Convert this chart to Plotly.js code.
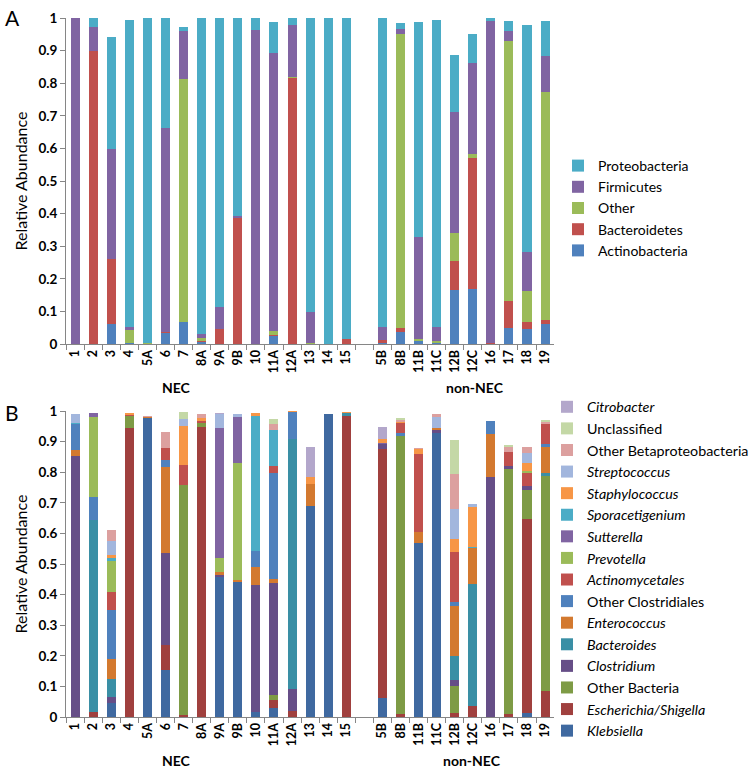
<!DOCTYPE html>
<html>
<head>
<meta charset="utf-8">
<script src="https://cdn.plot.ly/plotly-3.0.1.min.js"></script>
<style>html,body{margin:0;padding:0;background:#fff}#chart{width:754px;height:769px}</style>
</head>
<body>
<div id="chart"></div>
<script>
// Samples (gap slot between NEC and non-NEC groups)
var categories = ["1","2","3","4","5A","6","7","8A","9A","9B","10","11A","12A","13","14","15","\u00a0","5B","8B","11B","11C","12B","12C","16","17","18","19"];

// Panel A – phylum level (stack order bottom -> top)
var actinobacteria = [0,0,0.06,0.003,0,0.035,0.066,0.006,0,0,0,0.025,0,0,0,0,null,0.003,0.036,0.01,0.003,0.166,0.17,0,0.048,0.046,0.061];
var bacteroidetes  = [0,0.898,0.2,0,0,0.003,0,0.003,0.046,0.385,0,0.003,0.817,0,0,0.015,null,0.01,0.013,0,0,0.088,0.4,0.003,0.084,0.022,0.012];
var otherA         = [0,0,0.002,0.04,0.003,0,0.746,0.01,0,0,0,0.012,0.003,0.002,0,0,null,0,0.902,0.005,0.007,0.088,0.014,0,0.796,0.094,0.70];
var firmicutes     = [1.0,0.073,0.337,0.01,0,0.625,0.149,0.013,0.068,0.007,0.963,0.854,0.159,0.095,0,0,null,0.039,0.015,0.314,0.043,0.369,0.279,0.989,0.033,0.121,0.109];
var proteobacteria = [0,0.029,0.343,0.942,0.997,0.337,0.01,0.968,0.886,0.608,0.037,0.094,0.021,0.903,1.0,0.985,null,0.948,0.019,0.658,0.942,0.174,0.088,0.008,0.029,0.697,0.11];

// Panel B – genus level (stack order bottom -> top)
var klebsiella      = [0,0,0.045,0,0.977,0.154,0,0,0.459,0.442,0.015,0.028,0,0.69,0.99,0,null,0.062,0,0.57,0.927,0,0,0,0,0.012,0];
var escherichia     = [0,0.016,0,0.943,0,0.081,0.005,0.949,0,0,0,0.028,0.02,0,0,0.984,null,0.813,0.01,0,0,0.012,0.036,0,0.01,0.635,0.085];
var otherBacteria   = [0,0,0,0.04,0,0,0.752,0.011,0,0,0,0.016,0,0,0,0,null,0,0.908,0,0,0.089,0,0,0.799,0.095,0.703];
var clostridium     = [0.853,0,0.02,0,0,0.302,0,0,0.006,0,0.416,0.367,0.07,0,0,0,null,0.017,0,0,0.01,0.02,0,0.783,0.011,0.013,0];
var bacteroides     = [0,0.629,0.06,0,0,0,0,0,0,0,0,0,0.817,0,0,0.01,null,0,0,0,0,0.079,0.399,0,0,0,0.008];
var enterococcus    = [0.018,0,0.065,0,0.005,0.279,0,0,0.01,0.006,0.06,0.011,0,0.07,0,0,null,0,0,0.036,0.006,0.163,0.116,0.141,0,0,0.087];
var otherClost      = [0.086,0.075,0.16,0,0,0.024,0,0,0,0,0.051,0.346,0.089,0,0,0,null,0,0.009,0,0,0.014,0,0.044,0,0,0.008];
var actinomycetales = [0,0,0.06,0.005,0,0.038,0.067,0.008,0,0,0,0.025,0,0,0,0,null,0,0.033,0.253,0,0.163,0,0,0.047,0.043,0.065];
var prevotella      = [0,0.26,0.10,0,0,0,0,0,0.046,0.381,0,0,0,0,0,0,null,0,0,0,0,0,0,0,0,0.007,0];
var sutterella      = [0,0.012,0,0,0,0,0,0,0.422,0.152,0,0,0,0,0,0,null,0.004,0,0,0,0,0,0,0,0,0];
var sporacetigenium = [0.003,0,0.008,0,0,0,0,0,0,0,0.443,0.117,0,0,0,0,null,0,0,0,0,0,0.005,0,0,0,0];
var staphylococcus  = [0,0,0.012,0.005,0,0,0.128,0.008,0,0,0.01,0,0.004,0.025,0,0.004,null,0.013,0.005,0.017,0,0.042,0.131,0,0,0.024,0];
var streptococcus   = [0.03,0,0.045,0,0,0,0.021,0,0.046,0.009,0,0,0,0,0,0,null,0,0,0,0.038,0.097,0.008,0,0,0.033,0];
var otherBeta       = [0,0,0.035,0,0.003,0.052,0,0.014,0,0,0,0.018,0,0,0,0,null,0,0.005,0.004,0.009,0.114,0,0,0.014,0.021,0.009];
var unclassified    = [0,0,0,0,0,0,0.023,0,0,0,0,0.017,0,0,0,0,null,0,0.008,0,0,0.112,0,0,0.008,0,0.005];
var citrobacter     = [0,0,0,0.002,0,0,0,0,0.003,0,0,0,0,0.098,0,0,null,0.04,0,0,0,0,0,0,0,0,0];

var seriesA = [
  ["Actinobacteria", actinobacteria, "#4F81BD"],
  ["Bacteroidetes", bacteroidetes, "#C0504D"],
  ["Other", otherA, "#9BBB59"],
  ["Firmicutes", firmicutes, "#8064A2"],
  ["Proteobacteria", proteobacteria, "#4BACC6"]
];
var seriesB = [
  ["<i>Klebsiella</i>", klebsiella, "#3F69A0"],
  ["<i>Escherichia/Shigella</i>", escherichia, "#A0403E"],
  ["Other Bacteria", otherBacteria, "#7E9B45"],
  ["<i>Clostridium</i>", clostridium, "#664E87"],
  ["<i>Bacteroides</i>", bacteroides, "#3A8FA5"],
  ["<i>Enterococcus</i>", enterococcus, "#D3792F"],
  ["Other Clostridiales", otherClost, "#4F81BD"],
  ["<i>Actinomycetales</i>", actinomycetales, "#C0504D"],
  ["<i>Prevotella</i>", prevotella, "#9BBB59"],
  ["<i>Sutterella</i>", sutterella, "#8064A2"],
  ["<i>Sporacetigenium</i>", sporacetigenium, "#4BACC6"],
  ["<i>Staphylococcus</i>", staphylococcus, "#F79646"],
  ["<i>Streptococcus</i>", streptococcus, "#A2B6DD"],
  ["Other Betaproteobacteria", otherBeta, "#DCA09F"],
  ["Unclassified", unclassified, "#C4D8A6"],
  ["<i>Citrobacter</i>", citrobacter, "#B3A7CB"]
];

var W = 754, H = 769;
function px(x){return x/W;}
function py(y){return 1 - y/H;}

var traces = [];
seriesA.forEach(function(s){
  traces.push({type:"bar", name:s[0], x:categories, y:s[1], marker:{color:s[2], line:{width:0}},
    xaxis:"x", yaxis:"y", legend:"legend", hoverinfo:"skip"});
});
seriesB.forEach(function(s){
  traces.push({type:"bar", name:s[0], x:categories, y:s[1], marker:{color:s[2], line:{width:0}},
    xaxis:"x2", yaxis:"y2", legend:"legend2", hoverinfo:"skip"});
});

var FONT = "Lato, 'Liberation Sans', sans-serif";
var axisColor = "#868686";
function xAxis(){
  return {domain:[px(68), px(570)], type:"category", categoryorder:"array", categoryarray:categories,
    range:[-0.5, categories.length-0.5], tickangle:-90, tickson:"boundaries", ticks:"outside", ticklen:5,
    tickcolor:axisColor, showline:true, linecolor:axisColor, linewidth:1, showgrid:false, zeroline:false,
    tickfont:{family:FONT, size:12.5, color:"#000", weight:"bold"}, fixedrange:true};
}
function yAxis(dom){
  return {domain:dom, range:[0,1], dtick:0.1, tick0:0, ticks:"outside", ticklen:5, tickcolor:axisColor,
    showline:true, linecolor:axisColor, linewidth:1, showgrid:false, zeroline:false,
    tickfont:{family:FONT, size:13.5, color:"#000", weight:"bold"},
    title:{text:"Relative Abundance", font:{family:FONT, size:16, color:"#000"}, standoff:6}, fixedrange:true};
}

var layout = {
  width:W, height:H, margin:{l:0,r:0,t:0,b:0}, paper_bgcolor:"#fff", plot_bgcolor:"#fff",
  barmode:"stack", bargap:0.5, showlegend:true,
  font:{family:FONT, color:"#000"},
  xaxis: xAxis(), yaxis: Object.assign(yAxis([py(344), py(18)]), {anchor:"x"}),
  xaxis2: Object.assign(xAxis(), {anchor:"y2"}), yaxis2: Object.assign(yAxis([py(717), py(411)]), {anchor:"x2"}),
  legend:{x:px(574), xanchor:"left", y:py(150), yanchor:"top", traceorder:"reversed", itemwidth:30,
    font:{family:FONT, size:14, color:"#000"}, bgcolor:"rgba(0,0,0,0)"},
  legend2:{x:px(563), xanchor:"left", y:py(391), yanchor:"top", traceorder:"reversed", itemwidth:30,
    font:{family:FONT, size:14.3, color:"#000"}, bgcolor:"rgba(0,0,0,0)"},
  annotations:[
    {text:"A", x:px(3), y:py(3), xref:"paper", yref:"paper", xanchor:"left", yanchor:"top", showarrow:false, font:{family:FONT, size:21, color:"#000"}},
    {text:"B", x:px(3), y:py(398), xref:"paper", yref:"paper", xanchor:"left", yanchor:"top", showarrow:false, font:{family:FONT, size:21, color:"#000"}},
    {text:"NEC", x:px(182), y:py(387), xref:"paper", yref:"paper", xanchor:"center", yanchor:"middle", showarrow:false, font:{family:FONT, size:14, color:"#000", weight:"bold"}},
    {text:"non-NEC", x:px(489), y:py(387), xref:"paper", yref:"paper", xanchor:"center", yanchor:"middle", showarrow:false, font:{family:FONT, size:14, color:"#000", weight:"bold"}},
    {text:"NEC", x:px(182), y:py(760), xref:"paper", yref:"paper", xanchor:"center", yanchor:"middle", showarrow:false, font:{family:FONT, size:14, color:"#000", weight:"bold"}},
    {text:"non-NEC", x:px(486), y:py(760), xref:"paper", yref:"paper", xanchor:"center", yanchor:"middle", showarrow:false, font:{family:FONT, size:14, color:"#000", weight:"bold"}}
  ]
};

Plotly.newPlot("chart", traces, layout, {displayModeBar:false, staticPlot:true});
</script>
</body>
</html>
